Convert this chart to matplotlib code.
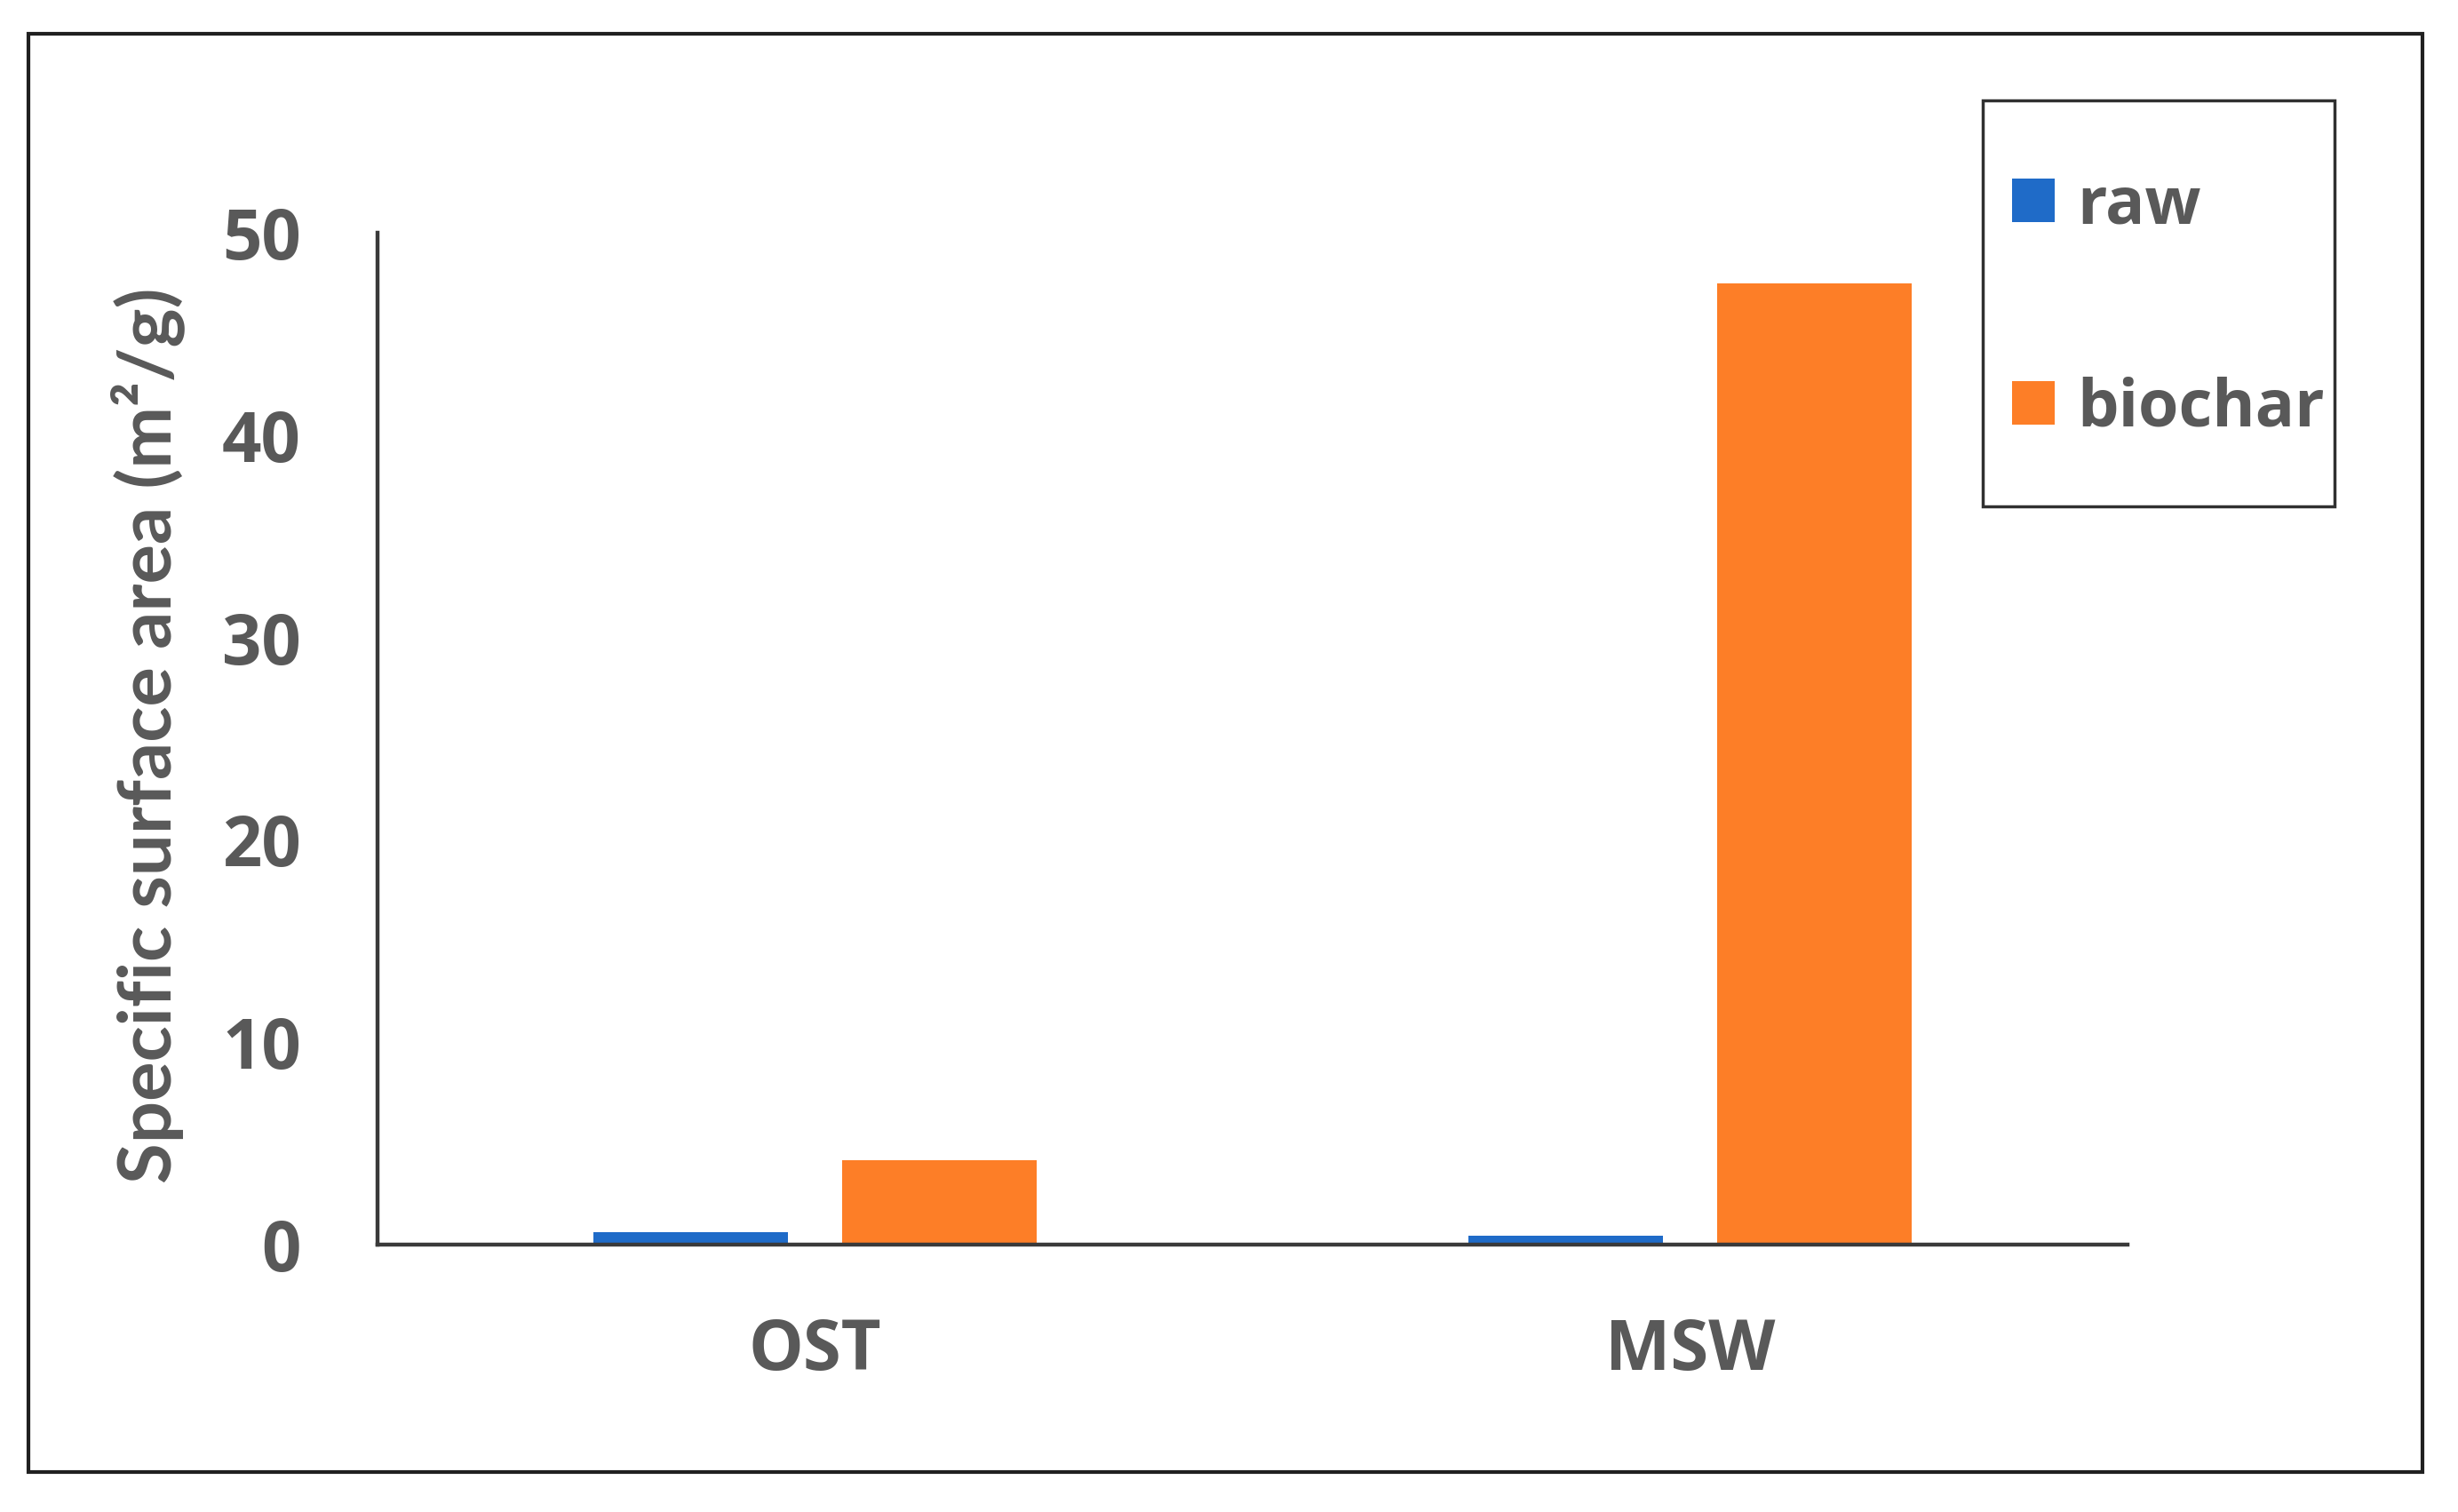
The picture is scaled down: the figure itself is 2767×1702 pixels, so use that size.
import numpy as np
import matplotlib
matplotlib.use("Agg")
import matplotlib.pyplot as plt
from matplotlib.patches import Rectangle

categories = ["OST", "MSW"]
series_names = ["raw", "biochar"]
raw_values = [0.61, 0.44]
biochar_values = [4.17, 47.5]
y_ticks = [0, 10, 20, 30, 40, 50]

colors = ["#1f6bc8", "#fd7e27"]
text_color = "#595959"
font = "Open Sans"

W, H = 2767, 1702
fig = plt.figure(figsize=(W / 100, H / 100), dpi=100)
ax = fig.add_axes([425 / W, 1 - 1401 / H, (2395 - 425) / W, (1401 - 262) / H])

x = np.arange(len(categories))
width = 0.223
ax.bar(x - 0.142, raw_values, width, color=colors[0], label=series_names[0], zorder=2)
ax.bar(x + 0.142, biochar_values, width, color=colors[1], label=series_names[1], zorder=2)

ax.set_xlim(-0.5, 1.5)
ax.set_ylim(0, 50)
ax.set_yticks(y_ticks)
ax.set_xticks(x)
ax.set_xticklabels(categories)

for s in ["top", "right"]:
    ax.spines[s].set_visible(False)
for s in ["left", "bottom"]:
    ax.spines[s].set_color("#3a3a3a")
    ax.spines[s].set_linewidth(3.2)
    ax.spines[s].set_zorder(3)

ax.tick_params(axis="y", length=0, pad=62, labelsize=56, labelcolor=text_color)
ax.tick_params(axis="x", length=0, pad=58, labelsize=56, labelcolor=text_color)
for lab in ax.get_xticklabels() + ax.get_yticklabels():
    lab.set_fontfamily(font)
    lab.set_fontweight("bold")

ax.set_ylabel("Specific surface area (m²/g)", fontsize=60, fontweight="bold",
              family="Lato", color=text_color)
ax.yaxis.set_label_coords(-0.11, 0.503)

# legend (frame drawn separately)
leg = ax.legend(loc="upper left", bbox_to_anchor=(2265 / W, 1 - 195 / H),
                bbox_transform=fig.transFigure, borderaxespad=0, borderpad=0,
                prop={"family": font, "weight": "bold", "size": 53},
                handlelength=0.65, handleheight=0.65, handletextpad=0.35,
                labelspacing=2.1, frameon=False)
for t in leg.get_texts():
    t.set_color(text_color)

fig.patches.append(Rectangle((2232 / W, 1 - 570 / H), (2628 - 2232) / W,
                             (570 - 113) / H, transform=fig.transFigure,
                             fill=False, edgecolor="#303030", linewidth=2.5))

# outer border
fig.patches.append(Rectangle((32 / W, 1 - 1657 / H), (2727 - 32) / W,
                             (1657 - 38) / H, transform=fig.transFigure,
                             fill=False, edgecolor="#202020", linewidth=3))

fig.savefig("out.png", dpi=100)
